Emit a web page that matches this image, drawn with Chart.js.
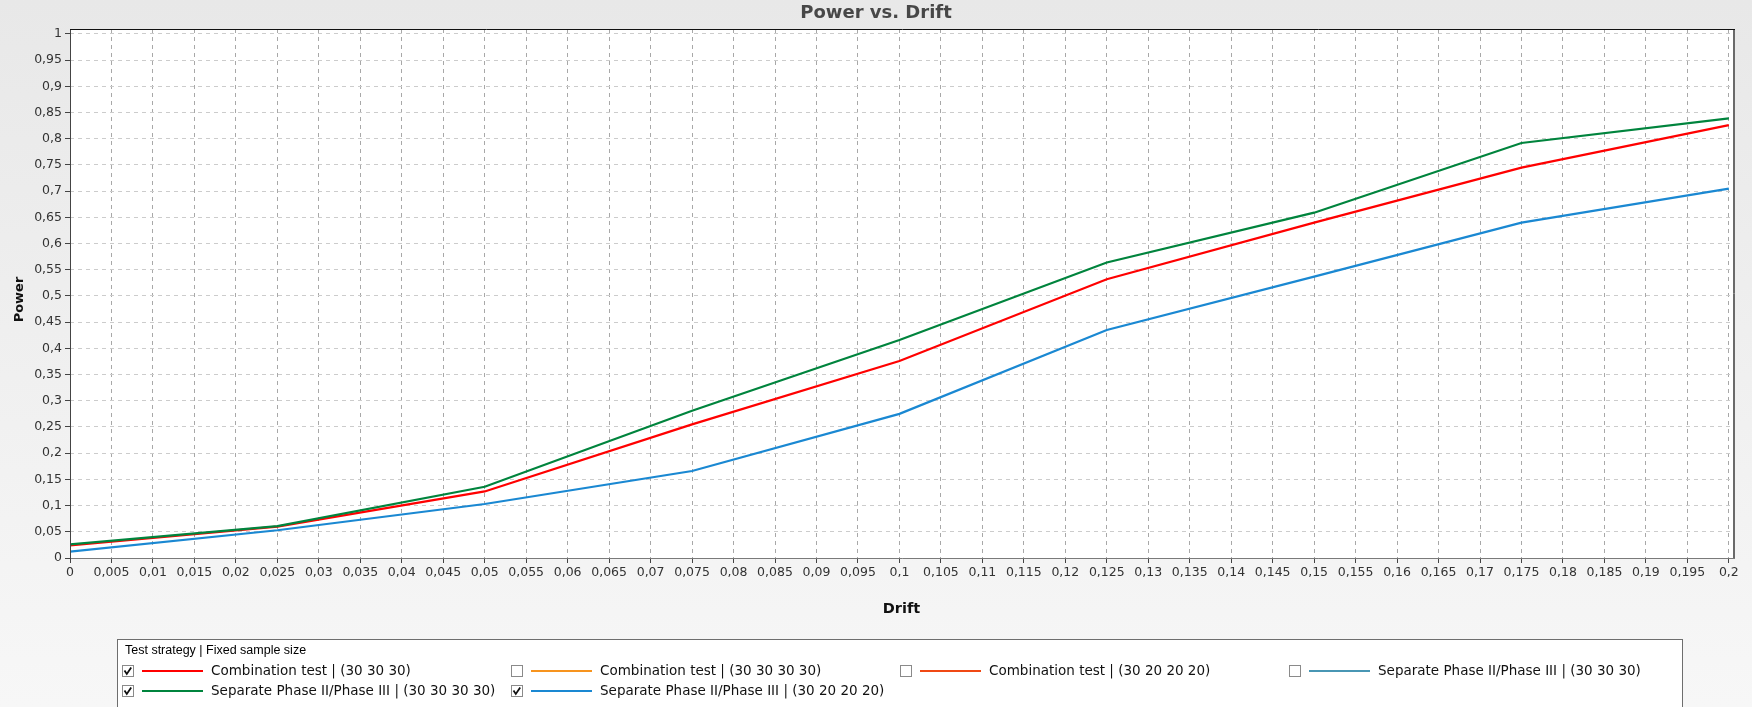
<!DOCTYPE html>
<html>
<head>
<meta charset="utf-8">
<script src="https://cdn.jsdelivr.net/npm/chart.js@4.4.1/dist/chart.umd.min.js"></script>
<style>
  html, body { margin: 0; padding: 0; background: #efefef; }
  canvas { display: block; }
</style>
</head>
<body>
<canvas id="chart" width="1752" height="707"></canvas>
<script>
// Drift values at which power was simulated
const drift = [0, 0.025, 0.05, 0.075, 0.1, 0.125, 0.15, 0.175, 0.2];

// Power per strategy / sample size
const powerCombination303030 = [0.024, 0.060, 0.127, 0.255, 0.376, 0.532, 0.640, 0.745, 0.826];
const powerSeparate30303030  = [0.026, 0.061, 0.136, 0.281, 0.416, 0.564, 0.659, 0.792, 0.839];
const powerSeparate30202020  = [0.012, 0.053, 0.103, 0.166, 0.275, 0.435, 0.537, 0.640, 0.705];

// Axis ticks
const xTicks = [0, 0.005, 0.01, 0.015, 0.02, 0.025, 0.03, 0.035, 0.04, 0.045, 0.05, 0.055, 0.06, 0.065,
  0.07, 0.075, 0.08, 0.085, 0.09, 0.095, 0.1, 0.105, 0.11, 0.115, 0.12, 0.125, 0.13, 0.135, 0.14,
  0.145, 0.15, 0.155, 0.16, 0.165, 0.17, 0.175, 0.18, 0.185, 0.19, 0.195, 0.2];
const yTicks = [0, 0.05, 0.1, 0.15, 0.2, 0.25, 0.3, 0.35, 0.4, 0.45, 0.5, 0.55, 0.6, 0.65, 0.7,
  0.75, 0.8, 0.85, 0.9, 0.95, 1];

// Legend entries (all strategies, only the checked ones are plotted)
const legendTitle = 'Test strategy | Fixed sample size';
const legendNames = [
  'Combination test | (30 30 30)',
  'Combination test | (30 30 30 30)',
  'Combination test | (30 20 20 20)',
  'Separate Phase II/Phase III | (30 30 30)',
  'Separate Phase II/Phase III | (30 30 30 30)',
  'Separate Phase II/Phase III | (30 20 20 20)'
];
const legendColors = ['#ff0000', '#f7941e', '#f04814', '#4896b4', '#00843d', '#1a88d2'];
const legendChecked = [true, false, false, false, true, true];

const chartTitle = 'Power vs. Drift';
const xTitle = 'Drift';
const yTitle = 'Power';

function fmt(v) {
  return String(+v.toFixed(3)).replace('.', ',');
}

function points(ys) {
  return drift.map((x, i) => ({ x: x, y: ys[i] }));
}

const FONT = '"DejaVu Sans", Verdana, sans-serif';

// Background, plot frame, titles and legend panel
const decorations = {
  id: 'decorations',
  beforeDraw(chart) {
    const ctx = chart.ctx;
    const a = chart.chartArea;
    ctx.save();
    const g = ctx.createLinearGradient(0, 0, 0, chart.height);
    g.addColorStop(0, '#e8e8e8');
    g.addColorStop(1, '#f7f7f7');
    ctx.fillStyle = g;
    ctx.fillRect(0, 0, chart.width, chart.height);
    ctx.fillStyle = '#ffffff';
    ctx.fillRect(a.left, a.top, a.right - a.left, a.bottom - a.top);
    ctx.restore();
  },
  afterDraw(chart) {
    const ctx = chart.ctx;
    const a = chart.chartArea;
    ctx.save();

    // plot frame
    ctx.lineWidth = 1;
    ctx.strokeStyle = '#6a6a6a';
    ctx.beginPath();
    ctx.moveTo(a.right + 0.5, a.top);
    ctx.lineTo(a.right + 0.5, a.bottom);
    ctx.moveTo(a.right + 1.5, a.top);
    ctx.lineTo(a.right + 1.5, a.bottom);
    ctx.stroke();
    ctx.strokeStyle = '#7a7a7a';
    ctx.beginPath();
    ctx.moveTo(a.left, a.bottom + 0.5);
    ctx.lineTo(a.right + 2, a.bottom + 0.5);
    ctx.stroke();
    ctx.strokeStyle = '#444444';
    ctx.beginPath();
    ctx.moveTo(a.left + 0.5, a.top);
    ctx.lineTo(a.left + 0.5, a.bottom + 1);
    ctx.stroke();
    ctx.strokeStyle = '#111111';
    ctx.beginPath();
    ctx.moveTo(a.left, a.top + 0.5);
    ctx.lineTo(a.right + 2, a.top + 0.5);
    ctx.stroke();

    // chart title
    ctx.save();
    ctx.filter = 'blur(0.5px)';
    ctx.fillStyle = '#474747';
    ctx.font = 'bold 18px ' + FONT;
    ctx.textAlign = 'center';
    ctx.textBaseline = 'middle';
    ctx.fillText(chartTitle, chart.width / 2, 13);
    ctx.restore();

    // axis titles
    ctx.fillStyle = '#111111';
    ctx.font = 'bold 14.5px ' + FONT;
    ctx.textAlign = 'center';
    ctx.textBaseline = 'middle';
    ctx.fillText(xTitle, (a.left + a.right) / 2, 609);
    ctx.save();
    ctx.translate(20, (a.top + a.bottom) / 2 + 6);
    ctx.rotate(-Math.PI / 2);
    ctx.font = 'bold 13px ' + FONT;
    ctx.fillText(yTitle, 0, 0);
    ctx.restore();

    // legend panel
    const lx = 117.5, ly = 639.5, lw = 1682 - 117, lh = 120;
    ctx.fillStyle = '#ffffff';
    ctx.fillRect(lx, ly, lw, lh);
    ctx.strokeStyle = '#6e6e6e';
    ctx.lineWidth = 1;
    ctx.strokeRect(lx, ly, lw, lh);

    ctx.fillStyle = '#000000';
    ctx.font = '12.5px "Liberation Sans", Arial, sans-serif';
    ctx.textAlign = 'left';
    ctx.textBaseline = 'middle';
    ctx.fillText(legendTitle, 125, 651);

    legendNames.forEach((name, i) => {
      const col = i % 4, row = Math.floor(i / 4);
      const bx = 122 + col * 389;
      const cy = 671 + row * 20;
      // checkbox
      ctx.fillStyle = '#ffffff';
      ctx.fillRect(bx, cy - 6, 12, 12);
      ctx.strokeStyle = '#8a8a8a';
      ctx.lineWidth = 1;
      ctx.strokeRect(bx + 0.5, cy - 5.5, 11, 11);
      if (legendChecked[i]) {
        ctx.strokeStyle = '#111111';
        ctx.lineWidth = 1.8;
        ctx.beginPath();
        ctx.moveTo(bx + 2.5, cy - 0.5);
        ctx.lineTo(bx + 4.8, cy + 3);
        ctx.lineTo(bx + 9.2, cy - 3.5);
        ctx.stroke();
      }
      // line sample
      ctx.strokeStyle = legendColors[i];
      ctx.lineWidth = 2;
      ctx.beginPath();
      ctx.moveTo(bx + 20, cy);
      ctx.lineTo(bx + 81, cy);
      ctx.stroke();
      // label
      ctx.fillStyle = '#111111';
      ctx.font = '13.5px ' + FONT;
      ctx.fillText(name, bx + 89, cy + 0.5);
    });

    ctx.restore();
  }
};

const seriesIdx = { comb: 0, sep4: 4, sep2: 5 };

new Chart(document.getElementById('chart'), {
  type: 'line',
  data: {
    datasets: [
      {
        label: legendNames[seriesIdx.sep4],
        data: points(powerSeparate30303030),
        borderColor: legendColors[seriesIdx.sep4],
        order: 0
      },
      {
        label: legendNames[seriesIdx.comb],
        data: points(powerCombination303030),
        borderColor: legendColors[seriesIdx.comb],
        order: 1
      },
      {
        label: legendNames[seriesIdx.sep2],
        data: points(powerSeparate30202020),
        borderColor: legendColors[seriesIdx.sep2],
        order: 2
      }
    ]
  },
  options: {
    responsive: false,
    devicePixelRatio: 1,
    animation: false,
    events: [],
    elements: {
      line: { borderWidth: 2.2, tension: 0, fill: false },
      point: { radius: 0 }
    },
    layout: { padding: { top: 29, right: 19, bottom: 79, left: 0 } },
    plugins: {
      legend: { display: false },
      title: { display: false },
      tooltip: { enabled: false }
    },
    scales: {
      x: {
        type: 'linear',
        min: 0,
        max: 0.2005,
        afterBuildTicks(scale) { scale.ticks = xTicks.map(v => ({ value: v })); },
        afterFit(scale) { scale.height = 70; },
        ticks: {
          autoSkip: false,
          maxRotation: 0,
          minRotation: 0,
          padding: 2,
          color: '#333333',
          font: { family: FONT, size: 12.5 },
          callback: v => fmt(v)
        },
        grid: {
          color: '#a8a8a8',
          lineWidth: 1,
          drawTicks: true,
          tickLength: 5,
          tickColor: '#444444',
          tickBorderDash: []
        },
        border: { display: false, dash: [4, 4] }
      },
      y: {
        type: 'linear',
        min: 0,
        max: 1.0095,
        afterBuildTicks(scale) { scale.ticks = yTicks.map(v => ({ value: v })); },
        afterFit(scale) { scale.width = 70; },
        ticks: {
          autoSkip: false,
          padding: 3,
          color: '#333333',
          font: { family: FONT, size: 12.5 },
          callback: v => fmt(v)
        },
        grid: {
          color: '#cccccc',
          lineWidth: 1,
          drawTicks: true,
          tickLength: 5,
          tickColor: '#444444',
          tickBorderDash: []
        },
        border: { display: false, dash: [4, 4] }
      }
    }
  },
  plugins: [decorations]
});
</script>
</body>
</html>
